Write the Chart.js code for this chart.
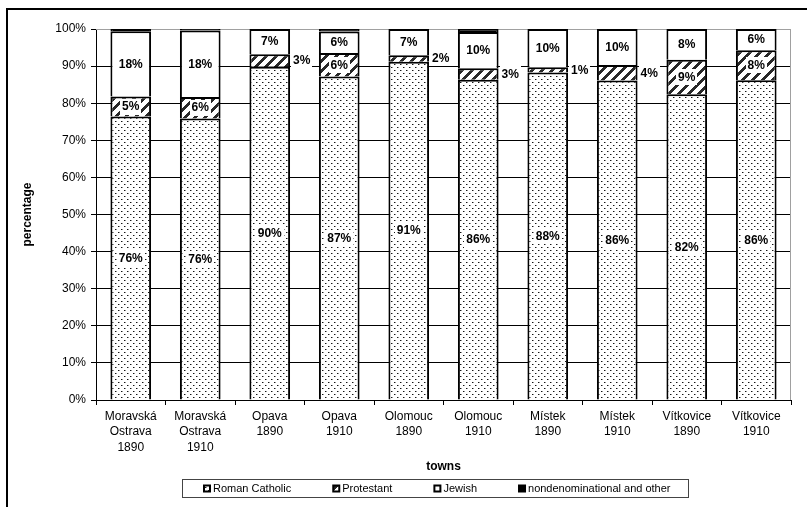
<!DOCTYPE html>
<html>
<head>
<meta charset="utf-8">
<script src="https://cdn.jsdelivr.net/npm/chart.js@4/dist/chart.umd.min.js"></script>
<style>
  html, body { margin: 0; padding: 0; background: #fff; }
  #wrap { position: relative; width: 807px; height: 507px; }
</style>
</head>
<body>
<div id="wrap"><canvas id="c" width="807" height="507"></canvas></div>
<script>
// Religious composition of towns, share of population (%)
const towns = [
  ['Moravská', 'Ostrava', '1890'], ['Moravská', 'Ostrava', '1910'],
  ['Opava', '1890'], ['Opava', '1910'],
  ['Olomouc', '1890'], ['Olomouc', '1910'],
  ['Místek', '1890'], ['Místek', '1910'],
  ['Vítkovice', '1890'], ['Vítkovice', '1910']
];
const romanCatholic = [76.4, 75.9, 89.8, 87.2, 91.2, 86.3, 88.3, 86.1, 82.4, 86.2];
const protestant    = [5.4, 5.8, 3.4, 6.3, 1.7, 3.1, 1.4, 4.2, 9.3, 8.1];
const jewish        = [17.6, 17.9, 6.8, 5.8, 7.1, 9.8, 10.3, 9.7, 8.3, 5.7];
const otherFaith    = [0.6, 0.4, 0, 0.7, 0, 0.8, 0, 0, 0, 0];
const seriesNames = ['Roman Catholic', 'Protestant', 'Jewish', 'nondenominational and other'];
const percentTicks = [0, 10, 20, 30, 40, 50, 60, 70, 80, 90, 100];

const FONT = '"Liberation Sans", Arial, Helvetica, sans-serif';
const canvas = document.getElementById('c');
const ctx0 = canvas.getContext('2d');

// Fill patterns painted pixel by pixel so they stay crisp
function tilePattern(size, paint) {
  const t = document.createElement('canvas');
  t.width = t.height = size;
  const g = t.getContext('2d');
  const img = g.createImageData(size, size);
  for (let y = 0; y < size; y++) {
    for (let x = 0; x < size; x++) {
      const v = paint(x, y);
      const k = (y * size + x) * 4;
      img.data[k] = img.data[k + 1] = img.data[k + 2] = v;
      img.data[k + 3] = 255;
    }
  }
  g.putImageData(img, 0, 0);
  return ctx0.createPattern(t, 'repeat');
}
// staggered dot grid
const dotted = tilePattern(6, (x, y) => {
  if ((x === 1 && y === 1) || (x === 4 && y === 4)) return 20;
  if ((x === 2 && y === 1) || (x === 5 && y === 4)) return 150;
  return 255;
});
// wide upward diagonal stripes
const hatched = tilePattern(10, (x, y) => ((x + y) % 10) < 4 ? 40 : 255);

const fills = [dotted, hatched, '#ffffff', '#000000'];
const seriesData = [romanCatholic, protestant, jewish, otherFaith];

// Segment value labels; thin segments get their label beside the bar
const segLabels = {
  id: 'segLabels',
  afterDatasetsDraw(chart) {
    const ctx = chart.ctx;
    ctx.save();
    ctx.font = 'bold 12px ' + FONT;
    ctx.textBaseline = 'middle';
    ctx.textAlign = 'center';
    [0, 1, 2].forEach(di => {
      const meta = chart.getDatasetMeta(di);
      meta.data.forEach((bar, i) => {
        const v = chart.data.datasets[di].data[i];
        const txt = Math.round(v) + '%';
        const w = ctx.measureText(txt).width;
        const yc = (bar.y + bar.base) / 2;
        const xc = v < 5 ? bar.x + bar.width / 2 + 1 + (w + 4) / 2 : bar.x;
        ctx.fillStyle = '#fff';
        ctx.fillRect(Math.round(xc - w / 2 - 2), Math.round(yc - 8), Math.round(w + 4), 16);
        ctx.fillStyle = '#000';
        ctx.fillText(txt, xc, yc + 0.5);
      });
    });
    ctx.restore();
  }
};

// Outer frame, plot border and boxed legend
const frame = {
  id: 'frame',
  beforeDraw(chart) {
    const ctx = chart.ctx;
    ctx.save();
    ctx.fillStyle = '#fff';
    ctx.fillRect(0, 0, chart.width, chart.height);
    ctx.fillStyle = '#000';
    ctx.fillRect(6, 8, chart.width, 2);
    ctx.fillRect(6, 8, 2, chart.height);
    ctx.restore();
  },
  beforeDatasetsDraw(chart) {
    const a = chart.chartArea;
    const ctx = chart.ctx;
    ctx.save();
    ctx.strokeStyle = '#a0a0a0';
    ctx.lineWidth = 1;
    ctx.beginPath();
    ctx.moveTo(a.left, Math.round(a.top) + 0.5);
    ctx.lineTo(Math.round(a.right) - 0.5, Math.round(a.top) + 0.5);
    ctx.lineTo(Math.round(a.right) - 0.5, a.bottom);
    ctx.stroke();
    ctx.restore();
  },
  afterDraw(chart) {
    const ctx = chart.ctx;
    ctx.save();
    ctx.strokeStyle = '#444';
    ctx.lineWidth = 1;
    ctx.strokeRect(182.5, 479.5, 506, 18);
    ctx.font = '11px ' + FONT;
    ctx.textBaseline = 'middle';
    ctx.textAlign = 'left';
    let x = 203;
    const y = 488.5;
    chart.data.datasets.forEach(ds => {
      ctx.fillStyle = '#000';
      ctx.fillRect(x, y - 4, 8, 8);
      ctx.fillStyle = ds.backgroundColor;
      ctx.fillRect(x + 2, y - 2, 4, 4);
      ctx.fillStyle = '#000';
      ctx.fillText(ds.label, x + 10, y);
      x += 10 + ctx.measureText(ds.label).width + 41;
    });
    ctx.restore();
  }
};

new Chart(canvas, {
  type: 'bar',
  data: {
    labels: towns,
    datasets: seriesNames.map((name, k) => ({
      label: name,
      data: seriesData[k],
      backgroundColor: fills[k],
      borderColor: '#000',
      borderWidth: 2,
      borderSkipped: 'start',
      barPercentage: 0.585,
      categoryPercentage: 1.0
    }))
  },
  options: {
    responsive: false,
    animation: false,
    events: [],
    layout: { padding: { top: 29, right: 16, bottom: 32, left: 0 } },
    plugins: {
      legend: { display: false },
      tooltip: { enabled: false }
    },
    scales: {
      x: {
        stacked: true,
        grid: { display: true, drawOnChartArea: false, offset: true, tickLength: 5, color: '#000' },
        border: { color: '#000', width: 1 },
        ticks: {
          color: '#000', autoSkip: false, maxRotation: 0, padding: 4,
          font: { family: FONT, size: 12, lineHeight: 1.28 }
        },
        title: {
          display: true, text: 'towns', color: '#000',
          font: { family: FONT, size: 12, weight: 'bold' },
          padding: { top: 0, bottom: 1 }
        },
        afterFit(s) { s.height = 75; }
      },
      y: {
        stacked: true,
        min: 0, max: 100,
        afterBuildTicks(s) { s.ticks = percentTicks.map(v => ({ value: v })); },
        grid: {
          color: c => (c.tick && c.tick.value === 100) ? '#a0a0a0' : '#000',
          tickColor: '#000', tickLength: 5, lineWidth: 1
        },
        border: { color: '#000', width: 1 },
        ticks: {
          color: '#000', padding: 5,
          font: { family: FONT, size: 12 },
          callback: v => v + '%'
        },
        title: {
          display: true, text: 'percentage', color: '#000',
          font: { family: FONT, size: 12, weight: 'bold' },
          padding: { top: 20, bottom: 0 }
        },
        afterFit(s) { s.width = 96; }
      }
    }
  },
  plugins: [frame, segLabels]
});
</script>
</body>
</html>
